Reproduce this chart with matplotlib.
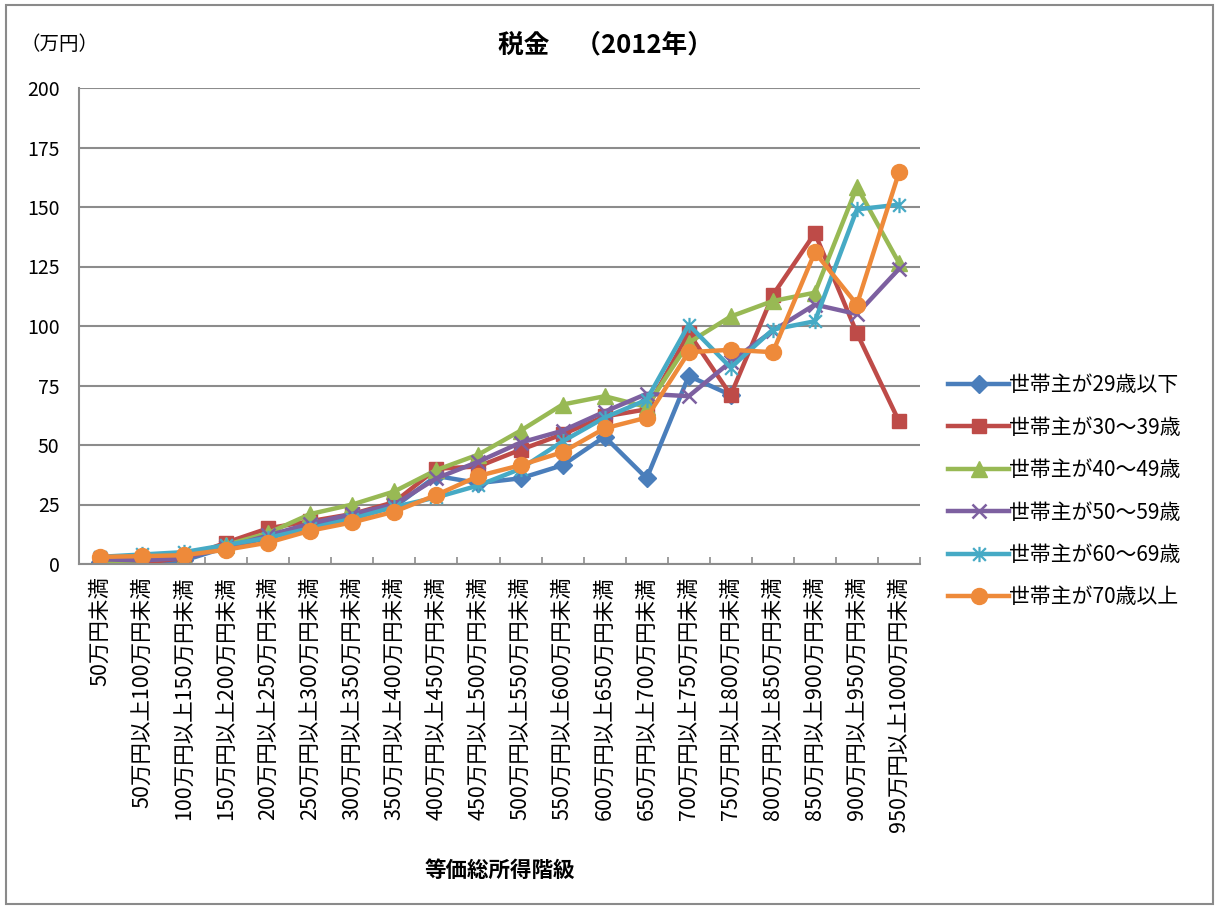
import matplotlib
matplotlib.use('Agg')
import matplotlib.pyplot as plt
import numpy as np
from matplotlib.path import Path
from matplotlib.patches import Rectangle

plt.rcParams['font.family'] = ['Noto Sans CJK JP', 'DejaVu Sans']

categories = [
    "50万円未満",
    "50万円以上100万円未満",
    "100万円以上150万円未満",
    "150万円以上200万円未満",
    "200万円以上250万円未満",
    "250万円以上300万円未満",
    "300万円以上350万円未満",
    "350万円以上400万円未満",
    "400万円以上450万円未満",
    "450万円以上500万円未満",
    "500万円以上550万円未満",
    "550万円以上600万円未満",
    "600万円以上650万円未満",
    "650万円以上700万円未満",
    "700万円以上750万円未満",
    "750万円以上800万円未満",
    "800万円以上850万円未満",
    "850万円以上900万円未満",
    "900万円以上950万円未満",
    "950万円以上1000万円未満",
]

nan = np.nan
age_u29 = [1, 0.5, 1.5, 7, 11, 16, 20, 24, 37, 34, 36, 41.5, 53.5, 36, 79, 71, nan, nan, nan, nan]
age_30s = [1, 0.5, 2.5, 9, 15, 18, 21, 26, 40, 41, 48, 54.5, 62, 65, 97, 71, 113, 139, 97, 60]
age_40s = [1, 1.5, 3, 8, 13, 21, 25, 30.5, 39.5, 46, 56, 67, 70.5, 66, 93, 104, 110.5, 114, 158.5, 126.5]
age_50s = [2, 1.5, 2.5, 7, 12, 17, 21, 25, 36, 43, 51, 56, 64, 71.5, 70.5, 85, 98, 109, 105, 124]
age_60s = [3, 4, 5, 8, 11, 15, 19, 24, 28, 33, 40, 51.5, 61.5, 69, 100.5, 82.5, 98.5, 102, 149, 151]
age_70p = [3, 3.3, 3.7, 6, 9, 14, 17.5, 22, 29, 37, 41.5, 47, 57, 61.5, 89, 90, 89, 131, 109, 164.5]

series_labels = ["世帯主が29歳以下", "世帯主が30～39歳", "世帯主が40～49歳",
                 "世帯主が50～59歳", "世帯主が60～69歳", "世帯主が70歳以上"]
yticks = [0, 25, 50, 75, 100, 125, 150, 175, 200]

colors = ['#4A7EBB', '#BE4B48', '#98B954', '#7D60A0', '#46AAC5', '#EE8A3A']

asterisk = Path([(-1, -1), (1, 1), (-1, 1), (1, -1), (0, -1.2), (0, 1.2)],
                [Path.MOVETO, Path.LINETO, Path.MOVETO, Path.LINETO, Path.MOVETO, Path.LINETO])

styles = [
    dict(marker='D', markersize=9),
    dict(marker='s', markersize=10),
    dict(marker='^', markersize=11),
    dict(marker='x', markersize=10, markeredgewidth=1.8),
    dict(marker=asterisk, markersize=11, markeredgewidth=1.6, markerfacecolor='none'),
    dict(marker='o', markersize=11.5),
]

fig = plt.figure(figsize=(12.15, 9.06), dpi=100)
fig.patch.set_facecolor('white')
fig.add_artist(Rectangle((6 / 1215, 2 / 906), 1207 / 1215, 899 / 906, transform=fig.transFigure,
                         fill=False, edgecolor='#8a8a8a', linewidth=1.5))

ax = fig.add_axes([79 / 1215, 1 - 564 / 906, (920 - 79) / 1215, (564 - 88) / 906])
x = np.arange(len(categories))
all_series = [age_u29, age_30s, age_40s, age_50s, age_60s, age_70p]
for vals, lab, col, st in zip(all_series, series_labels, colors, styles):
    kw = dict(st)
    kw.setdefault('markerfacecolor', col)
    ax.plot(x, vals, color=col, linewidth=3.2, markeredgecolor=col, label=lab, **kw)

ax.set_xlim(-0.5, len(categories) - 0.5)
ax.set_ylim(0, 200)
ax.set_yticks(yticks)
ax.set_yticklabels([str(t) for t in yticks], fontsize=14)
ax.yaxis.grid(True, color='#8c8c8c', linewidth=1.5)
ax.set_axisbelow(True)
ax.tick_params(axis='y', length=0, pad=14)

ax.set_xticks(x)
ax.set_xticklabels(categories, rotation=90, fontsize=15.5, va='top', ha='center')
ax.set_xticks(np.arange(-0.5, len(categories), 1.0), minor=True)
ax.tick_params(axis='x', which='major', length=0, pad=9)
ax.tick_params(axis='x', which='minor', direction='in', length=5, color='#8c8c8c', width=1.2)

for s in ['top', 'right']:
    ax.spines[s].set_visible(False)
for s in ['left', 'bottom']:
    ax.spines[s].set_color('#8c8c8c')
    ax.spines[s].set_linewidth(1.5)

fig.text(606 / 1215, 1 - 45 / 906, "税金　（2012年）", ha='center', va='center',
         fontsize=18.5, fontweight='bold')
fig.text(20 / 1215, 1 - 45 / 906, "（万円）", ha='left', va='center', fontsize=14)
fig.text(500 / 1215, 1 - 870 / 906, "等価総所得階級", ha='center', va='center',
         fontsize=15.5, fontweight='bold')

fig.legend(loc='upper left', bbox_to_anchor=(940 / 1215, 1 - 366 / 906), frameon=False,
           fontsize=15, handlelength=2.9, labelspacing=0.98, handletextpad=0.0,
           borderaxespad=0)

fig.savefig('out.png', dpi=100, facecolor='white')
